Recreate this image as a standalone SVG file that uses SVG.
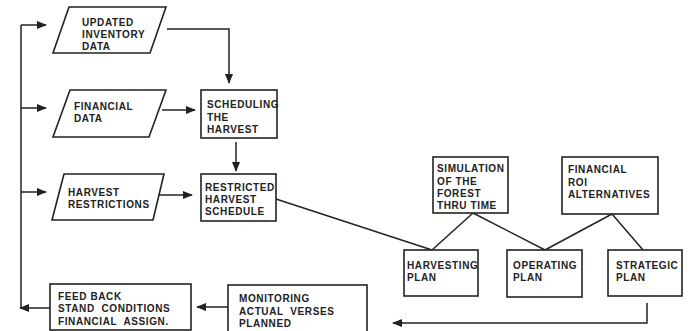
<svg xmlns="http://www.w3.org/2000/svg" width="692" height="331" viewBox="0 0 692 331">
<defs>
<marker id="ah" markerWidth="10" markerHeight="8" refX="9" refY="4" orient="auto" markerUnits="userSpaceOnUse">
<path d="M0,0 L10,4 L0,8 Z" fill="#222"/>
</marker>
<style>
.box{fill:#fff;stroke:#222;stroke-width:1.6}
.ln{fill:none;stroke:#222;stroke-width:1.5}
.t{font-family:"Liberation Sans",Arial,sans-serif;font-weight:bold;font-size:10px;letter-spacing:0.6px;fill:#222}
</style>
</defs>
<rect width="692" height="331" fill="#fff"/>
<g id="connectors">
<polyline class="ln" points="21,308 21,25"/>
<line class="ln" x1="21" y1="25" x2="46" y2="25" marker-end="url(#ah)"/>
<line class="ln" x1="21" y1="108" x2="46" y2="108" marker-end="url(#ah)"/>
<line class="ln" x1="21" y1="192" x2="46" y2="192" marker-end="url(#ah)"/>
<line class="ln" x1="50" y1="308" x2="20" y2="308" marker-end="url(#ah)"/>
<polyline class="ln" points="167,29 229,29 229,83" marker-end="url(#ah)"/>
<line class="ln" x1="162" y1="110" x2="195" y2="110" marker-end="url(#ah)"/>
<line class="ln" x1="236" y1="142" x2="236" y2="171" marker-end="url(#ah)"/>
<line class="ln" x1="159" y1="195" x2="192" y2="195" marker-end="url(#ah)"/>
<line class="ln" x1="276" y1="199" x2="432" y2="250"/>
<line class="ln" x1="473" y1="213" x2="432" y2="250"/>
<line class="ln" x1="473" y1="213" x2="545" y2="250"/>
<line class="ln" x1="612" y1="214" x2="545" y2="250"/>
<line class="ln" x1="612" y1="214" x2="643" y2="250"/>
<polyline class="ln" points="647,303 647,323 393,323" marker-end="url(#ah)"/>
<line class="ln" x1="228" y1="307" x2="197" y2="307" marker-end="url(#ah)"/>
</g>
<g id="updated-inventory">
<polygon class="box" points="69,7 166,7 150,53 53,53"/>
<text class="t" x="82" y="26">UPDATED</text>
<text class="t" x="82" y="38">INVENTORY</text>
<text class="t" x="82" y="50">DATA</text>
</g>
<g id="financial-data">
<polygon class="box" points="70,90 166,90 149,137 53,137"/>
<text class="t" x="74" y="110">FINANCIAL</text>
<text class="t" x="74" y="122">DATA</text>
</g>
<g id="harvest-restrictions">
<polygon class="box" points="64,174 164,174 153,220 52,220"/>
<text class="t" x="68" y="196">HARVEST</text>
<text class="t" x="68" y="208">RESTRICTIONS</text>
</g>
<g id="scheduling">
<rect class="box" x="201" y="90" width="76" height="48"/>
<text class="t" x="207" y="108">SCHEDULING</text>
<text class="t" x="207" y="121">THE</text>
<text class="t" x="207" y="133">HARVEST</text>
</g>
<g id="restricted-schedule">
<rect class="box" x="201" y="174" width="75" height="47"/>
<text class="t" x="205" y="191">RESTRICTED</text>
<text class="t" x="205" y="203">HARVEST</text>
<text class="t" x="205" y="215">SCHEDULE</text>
</g>
<g id="simulation">
<rect class="box" x="433" y="157" width="75" height="56"/>
<text class="t" x="437" y="172">SIMULATION</text>
<text class="t" x="437" y="185">OF THE</text>
<text class="t" x="437" y="197">FOREST</text>
<text class="t" x="437" y="209">THRU TIME</text>
</g>
<g id="financial-roi">
<rect class="box" x="562" y="157" width="96" height="57"/>
<text class="t" x="568" y="173">FINANCIAL</text>
<text class="t" x="568" y="186">ROI</text>
<text class="t" x="568" y="198">ALTERNATIVES</text>
</g>
<g id="harvesting-plan">
<rect class="box" x="404" y="250" width="74" height="46"/>
<text class="t" x="407" y="269">HARVESTING</text>
<text class="t" x="407" y="281">PLAN</text>
</g>
<g id="operating-plan">
<rect class="box" x="507" y="250" width="75" height="47"/>
<text class="t" x="513" y="269">OPERATING</text>
<text class="t" x="513" y="281">PLAN</text>
</g>
<g id="strategic-plan">
<rect class="box" x="608" y="250" width="74" height="46"/>
<text class="t" x="616" y="269">STRATEGIC</text>
<text class="t" x="616" y="281">PLAN</text>
</g>
<g id="feedback">
<rect class="box" x="50" y="284" width="141" height="46"/>
<text class="t" x="58" y="300">FEED BACK</text>
<text class="t" x="58" y="312" xml:space="preserve">STAND  CONDITIONS</text>
<text class="t" x="58" y="325" xml:space="preserve">FINANCIAL  ASSIGN.</text>
</g>
<g id="monitoring">
<rect class="box" x="228" y="285" width="139" height="50"/>
<text class="t" x="239" y="302">MONITORING</text>
<text class="t" x="239" y="315" xml:space="preserve">ACTUAL  VERSES</text>
<text class="t" x="239" y="327">PLANNED</text>
</g>
</svg>
